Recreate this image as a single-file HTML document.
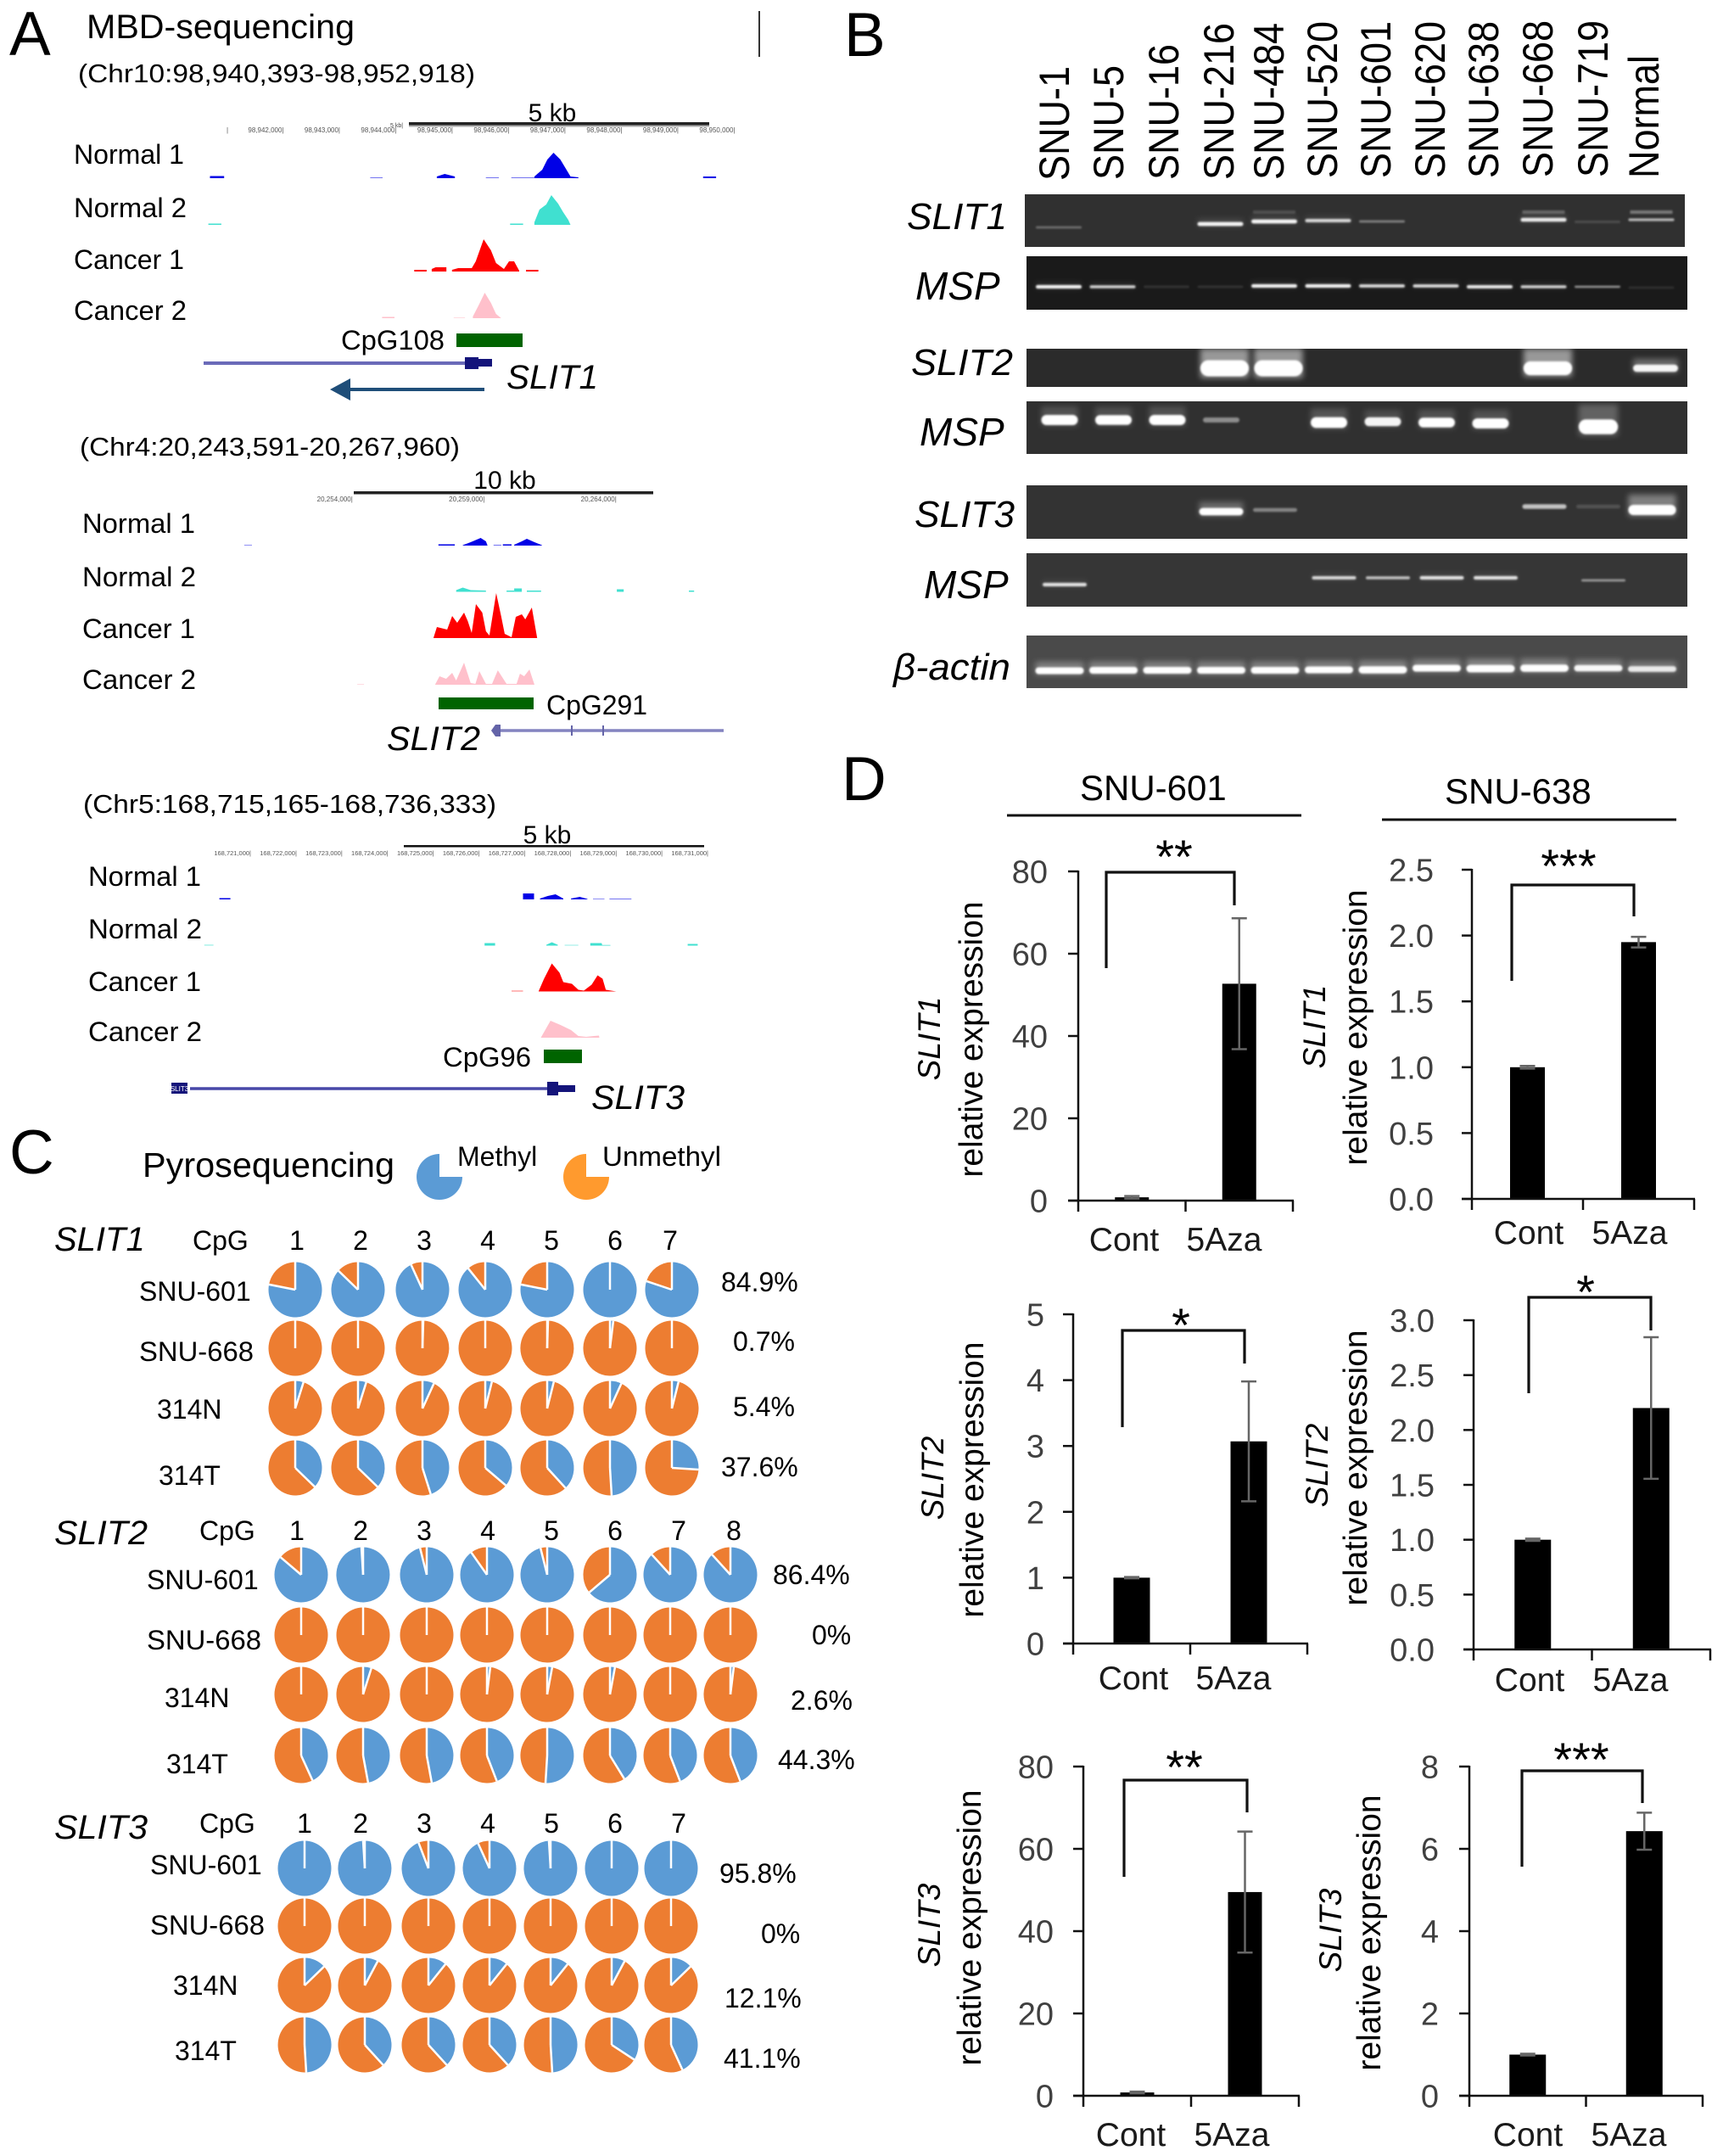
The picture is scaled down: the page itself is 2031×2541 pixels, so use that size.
<!DOCTYPE html>
<html lang="en">
<head>
<meta charset="utf-8">
<title>SLIT methylation figure</title>
<style>
html,body{margin:0;padding:0;background:#fff;}
svg{display:block;font-family:"Liberation Sans",sans-serif;}
</style>
</head>
<body>
<svg id="figure" xmlns="http://www.w3.org/2000/svg" width="2031" height="2541" viewBox="0 0 2031 2541">
<defs>
<filter id="band-blur" x="-30%" y="-100%" width="160%" height="300%"><feGaussianBlur stdDeviation="1.1"/></filter>
<filter id="halo-blur" x="-30%" y="-150%" width="160%" height="400%"><feGaussianBlur stdDeviation="3.5"/></filter>
</defs>
<rect x="0" y="0" width="2031" height="2541" fill="#fff"/>

<!-- Panel A -->
<g id="panel-a" fill="#000">
<text x="11" y="65" font-size="73">A</text>
<text x="102" y="45" font-size="40" textLength="316" lengthAdjust="spacingAndGlyphs">MBD-sequencing</text>
<text x="92" y="97" font-size="31" textLength="468" lengthAdjust="spacingAndGlyphs">(Chr10:98,940,393-98,952,918)</text>
<rect x="894" y="13" width="2" height="54" fill="#333"/>
<rect x="482" y="147" width="354" height="2.5" fill="#aaa"/>
<rect x="482" y="144" width="354" height="3.5" fill="#222"/>
<text x="651" y="143" font-size="30" text-anchor="middle">5 kb</text>
<text x="460" y="150" font-size="7" fill="#444">5 kb|</text>
<text x="267" y="156" font-size="8" fill="#555">|</text>
<text x="87" y="193" font-size="32" textLength="130" lengthAdjust="spacingAndGlyphs">Normal 1</text>
<text x="87" y="256" font-size="32" textLength="133" lengthAdjust="spacingAndGlyphs">Normal 2</text>
<text x="87" y="317" font-size="32" textLength="130" lengthAdjust="spacingAndGlyphs">Cancer 1</text>
<text x="87" y="377" font-size="32" textLength="133" lengthAdjust="spacingAndGlyphs">Cancer 2</text>
<text x="402" y="412" font-size="32" textLength="122" lengthAdjust="spacingAndGlyphs">CpG108</text>
<rect x="538" y="393" width="78" height="16" fill="#006400"/>
<line x1="240" y1="428" x2="548" y2="428" stroke="#6a6ab8" stroke-width="4"/>
<rect x="548" y="421" width="16" height="14" fill="#14147a"/>
<rect x="564" y="423" width="16" height="9" fill="#14147a"/>
<text x="597" y="458" font-size="40" font-style="italic" textLength="108" lengthAdjust="spacingAndGlyphs">SLIT1</text>
<path d="M571 457V461H413V472L389 459L413 446V457Z" fill="#1f4e79"/>

<text x="94" y="537" font-size="31" textLength="448" lengthAdjust="spacingAndGlyphs">(Chr4:20,243,591-20,267,960)</text>
<rect x="417" y="579" width="353" height="3.5" fill="#222"/>
<text x="595" y="576" font-size="30" text-anchor="middle">10 kb</text>
<text x="97" y="628" font-size="32" textLength="133" lengthAdjust="spacingAndGlyphs">Normal 1</text>
<text x="97" y="691" font-size="32" textLength="134" lengthAdjust="spacingAndGlyphs">Normal 2</text>
<text x="97" y="752" font-size="32" textLength="133" lengthAdjust="spacingAndGlyphs">Cancer 1</text>
<text x="97" y="812" font-size="32" textLength="134" lengthAdjust="spacingAndGlyphs">Cancer 2</text>
<rect x="517" y="822" width="112" height="14" fill="#006400"/>
<text x="644" y="842" font-size="32" textLength="119" lengthAdjust="spacingAndGlyphs">CpG291</text>
<text x="456" y="884" font-size="40" font-style="italic" textLength="110" lengthAdjust="spacingAndGlyphs">SLIT2</text>
<line x1="585" y1="861" x2="853" y2="861" stroke="#8484c0" stroke-width="3.5"/>
<rect x="673" y="855" width="2" height="12" fill="#6464a8"/>
<rect x="710" y="855" width="2" height="12" fill="#6464a8"/>
<path d="M579 861L584 854H590V868H584Z" fill="#6464a8"/>

<text x="98" y="958" font-size="31" textLength="487" lengthAdjust="spacingAndGlyphs">(Chr5:168,715,165-168,736,333)</text>
<rect x="476" y="996" width="354" height="2.5" fill="#111"/>
<text x="645" y="994" font-size="30" text-anchor="middle">5 kb</text>
<text x="104" y="1044" font-size="32" textLength="133" lengthAdjust="spacingAndGlyphs">Normal 1</text>
<text x="104" y="1106" font-size="32" textLength="134" lengthAdjust="spacingAndGlyphs">Normal 2</text>
<text x="104" y="1168" font-size="32" textLength="133" lengthAdjust="spacingAndGlyphs">Cancer 1</text>
<text x="104" y="1227" font-size="32" textLength="134" lengthAdjust="spacingAndGlyphs">Cancer 2</text>
<text x="522" y="1257" font-size="32" textLength="104" lengthAdjust="spacingAndGlyphs">CpG96</text>
<rect x="641" y="1237" width="45" height="16" fill="#006400"/>
<rect x="202" y="1276" width="19" height="13" fill="#14147a"/>
<text x="211.5" y="1286" font-size="8" text-anchor="middle" fill="#fff">SLIT3</text>
<line x1="224" y1="1283" x2="645" y2="1283" stroke="#4848a8" stroke-width="3.5"/>
<rect x="645" y="1275" width="13" height="16" fill="#14147a"/>
<rect x="658" y="1279" width="20" height="8" fill="#14147a"/>
<text x="697" y="1307" font-size="40" font-style="italic" textLength="110" lengthAdjust="spacingAndGlyphs">SLIT3</text>
</g>

<!-- Panel B -->
<g id="panel-b" fill="#000">
<text x="995" y="66" font-size="73">B</text>
<text transform="translate(1260,213) rotate(-90) scale(1,1.12)" font-size="45">SNU-1</text>
<text transform="translate(1324,212) rotate(-90) scale(1,1.12)" font-size="45">SNU-5</text>
<text transform="translate(1389,212) rotate(-90) scale(1,1.12)" font-size="45">SNU-16</text>
<text transform="translate(1454,212) rotate(-90) scale(1,1.12)" font-size="45">SNU-216</text>
<text transform="translate(1513,212) rotate(-90) scale(1,1.12)" font-size="45">SNU-484</text>
<text transform="translate(1576,210) rotate(-90) scale(1,1.12)" font-size="45">SNU-520</text>
<text transform="translate(1639,210) rotate(-90) scale(1,1.12)" font-size="45">SNU-601</text>
<text transform="translate(1703,210) rotate(-90) scale(1,1.12)" font-size="45">SNU-620</text>
<text transform="translate(1766,210) rotate(-90) scale(1,1.12)" font-size="45">SNU-638</text>
<text transform="translate(1830,209) rotate(-90) scale(1,1.12)" font-size="45">SNU-668</text>
<text transform="translate(1895,209) rotate(-90) scale(1,1.12)" font-size="45">SNU-719</text>
<text transform="translate(1955,210) rotate(-90) scale(1,1.12)" font-size="45">Normal</text>
<text x="1069" y="270" font-size="44" font-style="italic" textLength="118" lengthAdjust="spacingAndGlyphs">SLIT1</text>
<text x="1079" y="353" font-size="46" font-style="italic">MSP</text>
<text x="1074" y="442" font-size="44" font-style="italic" textLength="120" lengthAdjust="spacingAndGlyphs">SLIT2</text>
<text x="1084" y="525" font-size="46" font-style="italic">MSP</text>
<text x="1078" y="621" font-size="44" font-style="italic" textLength="118" lengthAdjust="spacingAndGlyphs">SLIT3</text>
<text x="1089" y="705" font-size="46" font-style="italic">MSP</text>
<text x="1053" y="801" font-size="44" font-style="italic" textLength="138" lengthAdjust="spacingAndGlyphs">β-actin</text>
</g>

<!-- Panel C -->
<g id="panel-c" fill="#000">
<text x="11" y="1383" font-size="73">C</text>
<text x="168" y="1387" font-size="40.5" textLength="297" lengthAdjust="spacingAndGlyphs">Pyrosequencing</text>
<path d="M518 1387L545 1387A27 27 0 1 1 518 1360Z" fill="#5b9bd5"/>
<text x="539" y="1374" font-size="32">Methyl</text>
<path d="M691 1387L718 1387A27 27 0 1 1 691 1360Z" fill="#ff9a2e"/>
<text x="710" y="1374" font-size="32" textLength="140" lengthAdjust="spacingAndGlyphs">Unmethyl</text>

<text x="64" y="1474" font-size="40" font-style="italic">SLIT1</text>
<text x="227" y="1473" font-size="32">CpG</text>
<text x="164" y="1533" font-size="32">SNU-601</text>
<text x="164" y="1604" font-size="32" textLength="135" lengthAdjust="spacingAndGlyphs">SNU-668</text>
<text x="185" y="1672" font-size="32">314N</text>
<text x="187" y="1750" font-size="32">314T</text>
<text x="850" y="1522" font-size="32">84.9%</text>
<text x="864" y="1592" font-size="32">0.7%</text>
<text x="864" y="1669" font-size="32">5.4%</text>
<text x="850" y="1740" font-size="32">37.6%</text>

<text x="64" y="1820" font-size="40" font-style="italic" textLength="110" lengthAdjust="spacingAndGlyphs">SLIT2</text>
<text x="235" y="1815" font-size="32">CpG</text>
<text x="173" y="1873" font-size="32">SNU-601</text>
<text x="173" y="1944" font-size="32" textLength="135" lengthAdjust="spacingAndGlyphs">SNU-668</text>
<text x="194" y="2012" font-size="32">314N</text>
<text x="196" y="2090" font-size="32">314T</text>
<text x="911" y="1867" font-size="32">86.4%</text>
<text x="957" y="1938" font-size="32">0%</text>
<text x="932" y="2015" font-size="32">2.6%</text>
<text x="917" y="2085" font-size="32">44.3%</text>

<text x="64" y="2167" font-size="40" font-style="italic" textLength="110" lengthAdjust="spacingAndGlyphs">SLIT3</text>
<text x="235" y="2160" font-size="32">CpG</text>
<text x="177" y="2209" font-size="32">SNU-601</text>
<text x="177" y="2280" font-size="32" textLength="135" lengthAdjust="spacingAndGlyphs">SNU-668</text>
<text x="204" y="2351" font-size="32">314N</text>
<text x="206" y="2428" font-size="32">314T</text>
<text x="848" y="2219" font-size="32">95.8%</text>
<text x="897" y="2290" font-size="32">0%</text>
<text x="854" y="2366" font-size="32">12.1%</text>
<text x="853" y="2437" font-size="32">41.1%</text>
</g>

<!-- Panel D -->
<g id="panel-d" fill="#000">
<text x="992" y="943" font-size="73">D</text>
<text x="1273" y="943" font-size="42">SNU-601</text>
<rect x="1187" y="959.5" width="347" height="3" fill="#111"/>
<text x="1703" y="947" font-size="42">SNU-638</text>
<rect x="1629" y="964.5" width="347" height="3" fill="#111"/>

<text transform="translate(1108,1224) rotate(-90)" font-size="37" font-style="italic" text-anchor="middle">SLIT1</text>
<text transform="translate(1158,1225) rotate(-90)" font-size="39" text-anchor="middle">relative expression</text>
<text transform="translate(1562,1210) rotate(-90)" font-size="37" font-style="italic" text-anchor="middle">SLIT1</text>
<text transform="translate(1611,1211) rotate(-90)" font-size="39" text-anchor="middle">relative expression</text>
<text transform="translate(1112,1742) rotate(-90)" font-size="37" font-style="italic" text-anchor="middle">SLIT2</text>
<text transform="translate(1159,1744) rotate(-90)" font-size="39" text-anchor="middle">relative expression</text>
<text transform="translate(1565,1727) rotate(-90)" font-size="37" font-style="italic" text-anchor="middle">SLIT2</text>
<text transform="translate(1611,1730) rotate(-90)" font-size="39" text-anchor="middle">relative expression</text>
<text transform="translate(1108,2269) rotate(-90)" font-size="37" font-style="italic" text-anchor="middle">SLIT3</text>
<text transform="translate(1156,2272) rotate(-90)" font-size="39" text-anchor="middle">relative expression</text>
<text transform="translate(1581,2275) rotate(-90)" font-size="37" font-style="italic" text-anchor="middle">SLIT3</text>
<text transform="translate(1627,2278) rotate(-90)" font-size="39" text-anchor="middle">relative expression</text>

<text x="1384" y="1029" font-size="56" text-anchor="middle">**</text>
<text x="1849" y="1040" font-size="56" text-anchor="middle">***</text>
<text x="1392" y="1581" font-size="56" text-anchor="middle">*</text>
<text x="1869" y="1542" font-size="56" text-anchor="middle">*</text>
<text x="1396" y="2102" font-size="56" text-anchor="middle">**</text>
<text x="1864" y="2093" font-size="56" text-anchor="middle">***</text>
</g>
</svg>
<script>
/* ---------- Panel A: MBD-seq signal, [kb, signal, kb, signal ...] per peak ---------- */
const slit1Normal1 = [[0.30,2.5,0.55,2.5],[3.14,1,3.36,1],[4.32,2,4.46,5,4.64,2],[5.19,1,5.42,1],[5.64,1,6.05,1],[6.05,2,6.19,10,6.28,22,6.39,30,6.51,22,6.6,12,6.69,2,6.83,1],[9.04,2,9.27,2]];
const slit1Normal2 = [[0.27,1.5,0.5,1.5],[5.62,1.5,5.85,1.5],[6.05,3,6.14,18,6.26,24,6.35,35,6.47,25,6.56,15,6.65,6,6.69,0]];
const slit1Cancer1 = [[3.92,2,4.14,2],[4.23,3,4.3,5,4.49,5],[4.59,2,4.7,4,4.94,4,5.01,12,5.15,38,5.28,25,5.37,10,5.51,3,5.6,12,5.69,12,5.78,1],[5.9,2,6.12,2]];
const slit1Cancer2 = [[3.35,1.5,3.57,1.5],[4.62,1,4.82,1],[4.96,2,5.06,15,5.17,30,5.28,18,5.37,5,5.46,0]];
const slit2Normal1 = [[1.22,0.8,1.51,0.8],[8.58,1.5,9.2,1.5],[9.5,0.5,9.8,4,10.18,9,10.38,5,10.44,0],[10.67,1,10.96,1],[11.02,1.5,11.35,1.5],[11.45,1,11.74,5,11.93,8,12.22,4,12.5,0.5]];
const slit2Normal2 = [[9.25,2,9.5,5,9.8,2,10.38,1.5],[11.16,1.5,11.45,1.5],[11.45,4,11.74,4],[11.93,1.5,12.47,1.5],[15.34,3,15.6,3],[18.07,1.5,18.27,1.5]];
const slit2Cancer1 = [[8.39,0,8.52,13,8.91,10,9.1,26,9.29,18,9.55,30,9.69,20,9.84,6,10,40,10.24,30,10.38,8,10.51,3,10.77,53,10.96,25,11.09,5,11.35,1,11.51,25,11.74,28,11.87,22,12.12,36,12.32,0]];
const slit2Cancer2 = [[5.5,1,5.76,1],[8.45,0,8.62,10,8.87,7,9.1,14,9.25,5,9.55,26,9.8,2,9.98,1,10.13,16,10.38,1,10.61,1,10.83,17,11.16,1,11.54,1,11.67,13,11.83,10,12.03,18,12.22,0]];
const slit3Normal1 = [[0.16,1.5,0.40,1.5],[6.80,7,7.04,7],[7.17,1,7.34,4,7.51,6,7.68,1],[7.85,1,8.04,3,8.21,0.5],[8.33,0.8,8.58,0.8],[8.69,1,9.17,1]];
const slit3Normal2 = [[-0.17,1.2,0.03,1.2],[5.96,3,6.19,3],[7.31,1,7.43,4,7.56,1],[7.71,1,8.01,1],[8.27,3,8.52,3,8.53,0.8,8.71,0.8],[10.4,2,10.62,2]];
const slit3Cancer1 = [[6.55,1,6.8,1],[7.14,0,7.26,15,7.43,33,7.6,22,7.68,11,7.87,9,8.01,2,8.13,1,8.3,8,8.43,19,8.54,15,8.61,2,8.84,0]];
const slit3Cancer2 = [[7.19,0,7.4,20,7.62,15,7.85,9,8.01,2,8.18,1,8.35,2,8.46,2.5,8.47,0]];
const slit1GenomeTicks = ['98,942,000|','98,943,000|','98,944,000|','98,945,000|','98,946,000|','98,947,000|','98,948,000|','98,949,000|','98,950,000|'];
const slit2GenomeTicks = ['20,254,000|','20,259,000|','20,264,000|'];
const slit3GenomeTicks = ['168,721,000|','168,722,000|','168,723,000|','168,724,000|','168,725,000|','168,726,000|','168,727,000|','168,728,000|','168,729,000|','168,730,000|','168,731,000|'];

/* ---------- Panel B: band signal per lane ---------- */
const gelLanes = ['SNU-1','SNU-5','SNU-16','SNU-216','SNU-484','SNU-520','SNU-601','SNU-620','SNU-638','SNU-668','SNU-719','Normal'];
const gelSlit1Signal = [0.3,0,0,0.95,0.95,0.8,0.4,0,0,0.9,0.15,0.65];
const gelSlit1Upper = [0,0,0,0,0.15,0,0,0,0,0.25,0,0.35];
const gelSlit1Migration = [8,0,0,4,1,0,1,0,0,-1,1.5,-1];
const gelMsp1Signal = [0.95,0.8,0.12,0.12,0.95,0.95,0.85,0.85,0.9,0.8,0.55,0.1];
const gelMsp1Migration = [0,0,0,0,-1,-1,-1,-1,0,0,0,1];
const gelSlit2Signal = [0,0,0,2.1,2.1,0,0,0,0,1.8,0,0.95];
const gelSlit2Migration = [0,0,0,0,0,0,0,0,0,0,0,0];
const gelMsp2Signal = [1.1,1.05,1.1,0.45,0,1.15,0.95,1.05,1.1,0,1.6,0];
const gelMsp2Migration = [-2,-2,-2,-2,0,1,0,1,2,0,6,0];
const gelSlit3Signal = [0,0,0,1.1,0.4,0,0,0,0,0.7,0.15,1.5];
const gelSlit3Migration = [0,0,0,2,0,0,0,0,0,-4,-4,0];
const gelMsp3Signal = [0.85,0,0,0,0,0.8,0.7,0.85,0.85,0,0.5,0];
const gelMsp3Migration = [8,0,0,0,0,0,0,0,0,0,3,0];
const gelActinSignal = [1,1,1,1,1,1,1.05,1,1.1,1.05,0.95,0.85];
const gelActinMigration = [1,0.5,0.5,0.5,0.5,0,0,-2,-1.5,-2,-2,-1];

/* ---------- Panel C: methylated % per CpG site ---------- */
const slit1CpgLabels = ['1','2','3','4','5','6','7'];
const slit2CpgLabels = ['1','2','3','4','5','6','7','8'];
const slit3CpgLabels = ['1','2','3','4','5','6','7'];
const slit1PieSnu601 = [78,87,93,89,78,100,80];
const slit1PieSnu668 = [0,0,0.5,0,0.5,2,0];
const slit1Pie314N = [5,5,7,4,4,7,4];
const slit1Pie314T = [37,37,45,36,38,49,26];
const slit2PieSnu601 = [86,99,96,90,96,64,88,88];
const slit2PieSnu668 = [0,0,0,0,0,0,0,0];
const slit2Pie314N = [0,5,0,2,3,3,0,2];
const slit2Pie314T = [43,47,47,44,51,41,44,44];
const slit3PieSnu601 = [100,99,94,93,99,100,100];
const slit3PieSnu668 = [0,0,0,0,0,0,0];
const slit3Pie314N = [13,8,11,11,11,8,13];
const slit3Pie314T = [49,38,38,38,49,34,43];

/* ---------- Panel D: bar charts ---------- */
const barCategories = ['Cont','5Aza'];
const chart1Values = [0.8,52.7];
const chart1Errors = [0.3,15.9];
const chart1Ticks = ['0','20','40','60','80'];
const chart2Values = [1.0,1.95];
const chart2Errors = [0.01,0.04];
const chart2Ticks = ['0.0','0.5','1.0','1.5','2.0','2.5'];
const chart3Values = [1.0,3.07];
const chart3Errors = [0.01,0.91];
const chart3Ticks = ['0','1','2','3','4','5'];
const chart4Values = [1.0,2.2];
const chart4Errors = [0.01,0.645];
const chart4Ticks = ['0.0','0.5','1.0','1.5','2.0','2.5','3.0'];
const chart5Values = [0.8,49.5];
const chart5Errors = [0.2,14.7];
const chart5Ticks = ['0','20','40','60','80'];
const chart6Values = [1.0,6.43];
const chart6Errors = [0.02,0.45];
const chart6Ticks = ['0','2','4','6','8'];

const NS = 'http://www.w3.org/2000/svg';
function mk(parent, tag, attrs, txt) {
  const node = document.createElementNS(NS, tag);
  for (const k in attrs) node.setAttribute(k, attrs[k]);
  if (txt !== undefined) node.textContent = txt;
  parent.appendChild(node);
  return node;
}
const panelA = document.getElementById('panel-a');
const panelB = document.getElementById('panel-b');
const panelC = document.getElementById('panel-c');
const panelD = document.getElementById('panel-d');

/* ---- signal tracks ---- */
function drawTrack(name, segments, x0, kbScale, base, color) {
  const xKb = function (kb) { return x0 + kb * kbScale; };
  const ySig = function (v) { return base - v; };
  const g = mk(panelA, 'g', {fill: color});
  
  
  segments.forEach(function (seg) {
    let d = 'M' + xKb(seg[0]).toFixed(1) + ' ' + base;
    let peak = 0;
    for (let i = 0; i < seg.length; i += 2) {
      d += 'L' + xKb(seg[i]).toFixed(1) + ' ' + ySig(seg[i + 1]).toFixed(1);
      peak = Math.max(peak, seg[i + 1]);
    }
    d += 'L' + xKb(seg[seg.length - 2]).toFixed(1) + ' ' + base + 'Z';
    const el = mk(g, 'path', {d: d, 'fill-opacity': peak <= 1.2 ? 0.55 : 1});
    
    
  });
}
const trackBlue = '#0000e6', trackTeal = '#40e0d0', trackRed = '#ff0000', trackPink = '#ffc0cb';
drawTrack('slit1-normal-1', slit1Normal1, 227.6, 66.5, 210, trackBlue);
drawTrack('slit1-normal-2', slit1Normal2, 227.6, 66.5, 265, trackTeal);
drawTrack('slit1-cancer-1', slit1Cancer1, 227.6, 66.5, 320, trackRed);
drawTrack('slit1-cancer-2', slit1Cancer2, 227.6, 66.5, 375, trackPink);
drawTrack('slit2-normal-1', slit2Normal1, 250, 31.1, 643, trackBlue);
drawTrack('slit2-normal-2', slit2Normal2, 250, 31.1, 697.5, trackTeal);
drawTrack('slit2-cancer-1', slit2Cancer1, 250, 31.1, 752, trackRed);
drawTrack('slit2-cancer-2', slit2Cancer2, 250, 31.1, 807, trackPink);
drawTrack('slit3-normal-1', slit3Normal1, 250, 53.9, 1060, trackBlue);
drawTrack('slit3-normal-2', slit3Normal2, 250, 53.9, 1114.5, trackTeal);
drawTrack('slit3-cancer-1', slit3Cancer1, 250, 53.9, 1168.5, trackRed);
drawTrack('slit3-cancer-2', slit3Cancer2, 250, 53.9, 1223, trackPink);

function drawGenomeTicks(name, labels, firstX, step, y, size) {
  labels.forEach(function (label, i) {
    const el = mk(panelA, 'text', {x: firstX + i * step, y: y, 'font-size': size, 'text-anchor': 'end', fill: '#555'}, label);
    
    
  });
}
drawGenomeTicks('slit1', slit1GenomeTicks, 334.5, 66.5, 156, 8);
drawGenomeTicks('slit2', slit2GenomeTicks, 415.8, 155.5, 591, 8);
drawGenomeTicks('slit3', slit3GenomeTicks, 296, 53.9, 1008, 7.5);

/* ---- gel ---- */
function laneX(i, shift) { return 1246 + i * 63.5 + shift; }
function drawGel(name, box, signal, migration, opts) {
  const g = mk(panelB, 'g', {});
  
  
  const bg = mk(g, 'rect', {x: box.x, y: box.y, width: box.w, height: box.h, fill: box.fill});
  
  
  signal.forEach(function (v, i) {
    if (v <= 0) return;
    const cx = laneX(i, opts.shift);
    const thick = opts.bandH * (v < 1 ? Math.max(0.55, v) : v);
    const w = opts.bandW * (v > 1.4 ? 1.08 : 1);
    const cy = opts.baseY + migration[i];
    if (v >= 0.8) {
      const haloTop = v > 1.4 ? Math.max(box.y, cy - thick * 1.5) : cy - thick * 1.3;
      const halo = mk(g, 'rect', {x: cx - w / 2, y: haloTop, width: w, height: cy - haloTop + thick * 0.6, fill: '#fff', opacity: opts.halo * Math.min(v, 1.6), filter: 'url(#halo-blur)'});
      
      
    }
    const el = mk(g, 'rect', {x: cx - w / 2, y: cy - thick / 2, width: w, height: thick, rx: thick / 2, fill: '#fff', opacity: Math.min(1, v), filter: 'url(#band-blur)'});
    
    
  });
}
drawGel('slit1', {x:1208,y:229,w:778,h:62,fill:'#303030'}, gelSlit1Signal, gelSlit1Migration, {baseY:260,bandH:5,bandW:54,shift:2,halo:0.12});
gelSlit1Upper.forEach(function (v, i) {
  if (v <= 0) return;
  const el = mk(panelB, 'rect', {x: laneX(i, 2) - 25, y: 248, width: 50, height: 4, fill: '#fff', opacity: v, filter: 'url(#band-blur)'});
  
  
});
drawGel('msp-slit1', {x:1210,y:302,w:779,h:63,fill:'#1a1a1a'}, gelMsp1Signal, gelMsp1Migration, {baseY:338,bandH:4.5,bandW:54,shift:2,halo:0.08});
drawGel('slit2', {x:1210,y:411,w:779,h:45,fill:'#2b2b2b'}, gelSlit2Signal, gelSlit2Migration, {baseY:434,bandH:9,bandW:53,shift:7,halo:0.32});
drawGel('msp-slit2', {x:1210,y:473,w:779,h:62,fill:'#303030'}, gelMsp2Signal, gelMsp2Migration, {baseY:497,bandH:11,bandW:43,shift:3,halo:0.15});
drawGel('slit3', {x:1210,y:572,w:779,h:63,fill:'#333333'}, gelSlit3Signal, gelSlit3Migration, {baseY:601,bandH:8,bandW:52,shift:3,halo:0.25});
drawGel('msp-slit3', {x:1210,y:652,w:779,h:63,fill:'#363636'}, gelMsp3Signal, gelMsp3Migration, {baseY:681,bandH:5,bandW:52,shift:9,halo:0.08});
drawGel('beta-actin', {x:1210,y:749,w:779,h:62,fill:'#4a4a4a'}, gelActinSignal, gelActinMigration, {baseY:789.5,bandH:8,bandW:57,shift:3,halo:0.3});

/* ---- pies ---- */
const pieMethyl = '#5b9bd5', pieUnmethyl = '#ed7d31';
function piePoint(cx, cy, frac) {
  const a = frac * 2 * Math.PI;
  return [cx + 31.5 * Math.sin(a), cy - 32.5 * Math.cos(a)];
}
function sector(g, name, cx, cy, f0, f1, color) {
  const p0 = piePoint(cx, cy, f0), p1 = piePoint(cx, cy, f1);
  const large = (f1 - f0) > 0.5 ? 1 : 0;
  const el = mk(g, 'path', {d: 'M' + cx + ' ' + cy + 'L' + p0[0].toFixed(2) + ' ' + p0[1].toFixed(2) + 'A31.5 32.5 0 ' + large + ' 1 ' + p1[0].toFixed(2) + ' ' + p1[1].toFixed(2) + 'Z', fill: color});
  
  
}
function drawPie(g, name, cx, cy, pct) {
  const f = Math.max(0, Math.min(100, pct)) / 100;
  if (f <= 0 || f >= 1) {
    const full = mk(g, 'ellipse', {cx: cx, cy: cy, rx: 31.5, ry: 32.5, fill: f >= 1 ? pieMethyl : pieUnmethyl});
    
    
  } else {
    sector(g, name + '-methyl-slice', cx, cy, 0, f, pieMethyl);
    sector(g, name + '-unmethyl-slice', cx, cy, f, 1, pieUnmethyl);
  }
  const top = mk(g, 'line', {x1: cx, y1: cy, x2: cx, y2: cy - 33, stroke: '#fff', 'stroke-width': 2.5});
  
  
  if (f > 0 && f < 1) {
    const p = piePoint(cx, cy, f);
    const div = mk(g, 'line', {x1: cx, y1: cy, x2: p[0], y2: p[1], stroke: '#fff', 'stroke-width': 2.5});
    
    
  }
}
function drawPieGrid(name, rows, rowNames, colXs, rowYs) {
  const g = mk(panelC, 'g', {});
  
  
  rows.forEach(function (row, r) {
    row.forEach(function (pct, c) {
      drawPie(g, name + '-' + rowNames[r] + '-cpg' + (c + 1), colXs[c], rowYs[r], pct);
    });
  });
}
const pieRowNames = ['snu-601','snu-668','314n','314t'];
drawPieGrid('slit1', [slit1PieSnu601, slit1PieSnu668, slit1Pie314N, slit1Pie314T], pieRowNames, [348,422,498,572,645,719,792], [1520,1589,1660,1730]);
drawPieGrid('slit2', [slit2PieSnu601, slit2PieSnu668, slit2Pie314N, slit2Pie314T], pieRowNames, [355,428,503,574,645,719,790,861], [1856,1927,1997,2069]);
drawPieGrid('slit3', [slit3PieSnu601, slit3PieSnu668, slit3Pie314N, slit3Pie314T], pieRowNames, [359,430,505,577,649,721,791], [2202,2270,2340,2410]);

function drawCpgLabels(name, labels, xs, y) {
  labels.forEach(function (label, i) {
    const el = mk(panelC, 'text', {x: xs[i], y: y, 'font-size': 32, 'text-anchor': 'middle'}, label);
    
    
  });
}
drawCpgLabels('slit1', slit1CpgLabels, [350,425,500,575,650,725,790], 1473);
drawCpgLabels('slit2', slit2CpgLabels, [350,425,500,575,650,725,800,865], 1815);
drawCpgLabels('slit3', slit3CpgLabels, [359,425,500,575,650,725,800], 2160);

/* ---- bar charts ---- */
function drawBarChart(name, L, categories, values, errors, ticks) {
  const tickNums = ticks.map(parseFloat);
  const maxV = tickNums[tickNums.length - 1];
  const yAxis = function (v) { return L.y0 - (v / maxV) * (L.y0 - L.yTop); };
  const xBand = function (i) { return L.x0 + (i + 0.5) * (L.x1 - L.x0) / categories.length; };
  const g = mk(panelD, 'g', {});
  
  

  values.forEach(function (v, i) {
    const bar = mk(g, 'rect', {x: xBand(i) - L.barW / 2, y: yAxis(v), width: L.barW, height: L.y0 - yAxis(v), fill: '#000'});
    
    
    const eTop = yAxis(v + errors[i]), eBot = yAxis(v - errors[i]);
    const err = mk(g, 'path', {d: 'M' + xBand(i) + ' ' + eTop + 'V' + eBot + 'M' + (xBand(i) - 9) + ' ' + eTop + 'H' + (xBand(i) + 9) + 'M' + (xBand(i) - 9) + ' ' + eBot + 'H' + (xBand(i) + 9), stroke: '#666', 'stroke-width': 2.5, fill: 'none'});
    
    
    const cat = mk(g, 'text', {x: L.catX[i], y: L.catY, 'font-size': 39, 'text-anchor': 'middle', fill: '#1a1a1a'}, categories[i]);
    
    
  });

  const yLine = mk(g, 'line', {x1: L.x0, y1: yAxis(maxV) - 1, x2: L.x0, y2: L.y0 + 13, stroke: '#111', 'stroke-width': 2.5});
  
  
  const xLine = mk(g, 'line', {x1: L.x0 - 12, y1: L.y0, x2: L.x1 + 1, y2: L.y0, stroke: '#111', 'stroke-width': 2.5});
  
  

  categories.forEach(function (c, i) {
    const xt = L.x0 + (i + 1) * (L.x1 - L.x0) / categories.length;
    const tick = mk(g, 'line', {x1: xt, y1: L.y0, x2: xt, y2: L.y0 + 13, stroke: '#111', 'stroke-width': 2.5});
    
    
  });

  ticks.forEach(function (label, i) {
    const yT = yAxis(tickNums[i]);
    const tick = mk(g, 'line', {x1: L.x0 - 12, y1: yT, x2: L.x0, y2: yT, stroke: '#111', 'stroke-width': 2.5});
    
    
    const tl = mk(g, 'text', {x: L.labelX, y: yT + 13.5, 'font-size': 38, 'text-anchor': 'end', fill: '#404040'}, label);
    
    
  });

  const br = L.bracket;
  const bracket = mk(g, 'path', {d: 'M' + br[0] + ' ' + br[1] + 'V' + br[2] + 'H' + br[3] + 'V' + br[4], stroke: '#111', 'stroke-width': 3.2, fill: 'none'});
  
  
}
drawBarChart('chart1-slit1-snu601', {x0:1271,x1:1524,yTop:1027,y0:1415,barW:40,labelX:1235,catX:[1325,1443],catY:1474,bracket:[1304,1141,1028,1455,1067]}, barCategories, chart1Values, chart1Errors, chart1Ticks);
drawBarChart('chart2-slit1-snu638', {x0:1735,x1:1997,yTop:1025,y0:1413,barW:41,labelX:1690,catX:[1802,1921],catY:1466,bracket:[1782,1156,1043,1926,1080]}, barCategories, chart2Values, chart2Errors, chart2Ticks);
drawBarChart('chart3-slit2-snu601', {x0:1265,x1:1541,yTop:1549,y0:1937,barW:43,labelX:1231,catX:[1336,1454],catY:1991,bracket:[1323,1682,1568,1467,1607]}, barCategories, chart3Values, chart3Errors, chart3Ticks);
drawBarChart('chart4-slit2-snu638', {x0:1737,x1:2016,yTop:1556,y0:1944,barW:43,labelX:1691,catX:[1803,1922],catY:1993,bracket:[1802,1642,1529,1946,1568]}, barCategories, chart4Values, chart4Errors, chart4Ticks);
drawBarChart('chart5-slit3-snu601', {x0:1277,x1:1531,yTop:2082,y0:2470,barW:40,labelX:1242,catX:[1333,1452],catY:2529,bracket:[1325,2212,2098,1470,2136]}, barCategories, chart5Values, chart5Errors, chart5Ticks);
drawBarChart('chart6-slit3-snu638', {x0:1732,x1:2007,yTop:2082,y0:2470,barW:43,labelX:1696,catX:[1801,1920],catY:2529,bracket:[1794,2200,2087,1936,2125]}, barCategories, chart6Values, chart6Errors, chart6Ticks);
</script>
</body>
</html>
